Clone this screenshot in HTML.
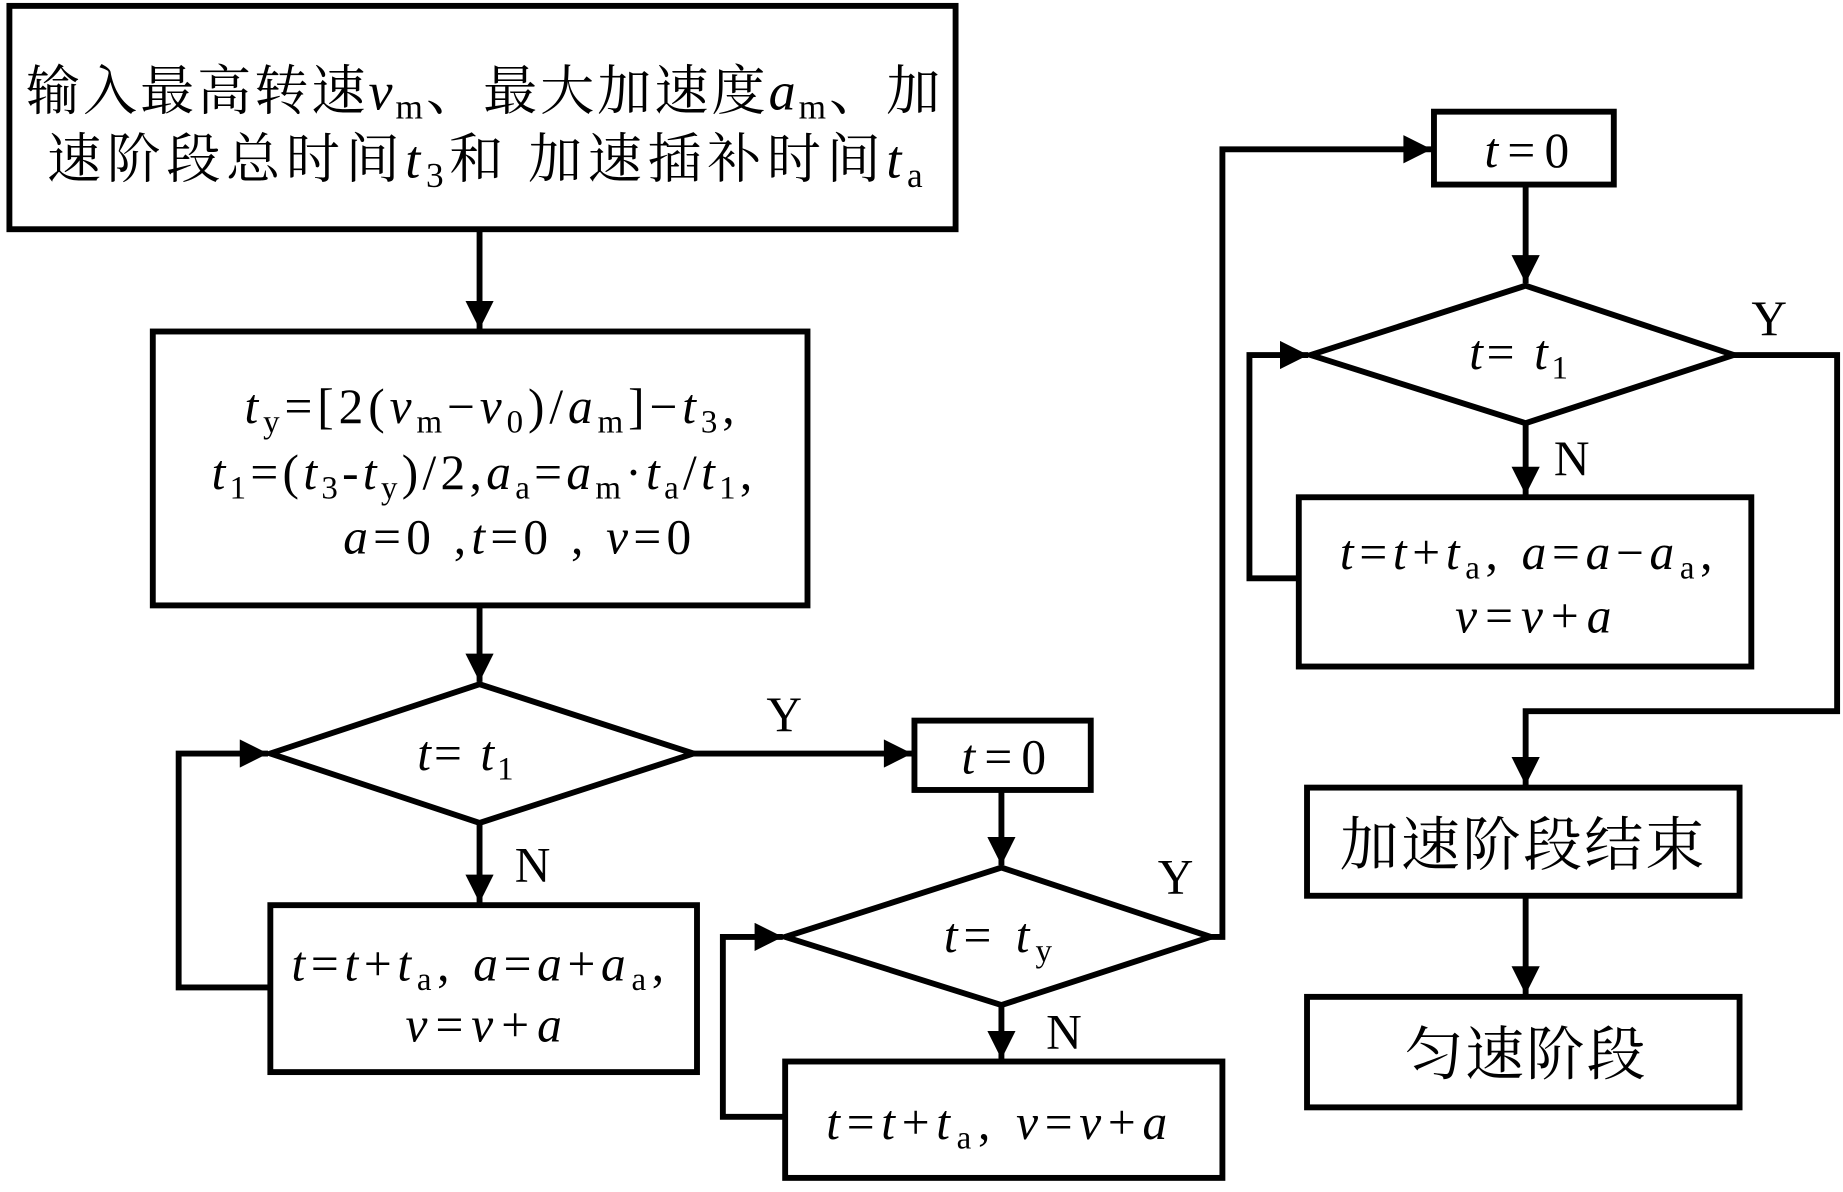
<!DOCTYPE html>
<html><head><meta charset="utf-8"><style>
html,body{margin:0;padding:0;background:#fff;}
svg{display:block;}
text{font-family:"Liberation Serif","Noto Serif CJK SC",serif;fill:#000;}
.i{font-style:italic;}
</style></head><body>
<svg width="1843" height="1192" viewBox="0 0 1568 1014" preserveAspectRatio="none" xmlns="http://www.w3.org/2000/svg">
<defs>
<marker id="ah" viewBox="0 0 10 10" refX="10" refY="5" markerWidth="26" markerHeight="24" markerUnits="userSpaceOnUse" orient="auto"><path d="M0,0 L10,5 L0,10z"/></marker></defs>
<g fill="none" stroke="#000" stroke-width="5">
<rect x="8" y="5" width="805" height="190"/>
<rect x="130" y="282" width="557" height="233"/>
<polygon points="230,641 408,582 590,641 408,700"/>
<rect x="230" y="770" width="363" height="142"/>
<rect x="778" y="613" width="150" height="59"/>
<polygon points="668,797 852,738 1030,797 852,855"/>
<rect x="668" y="903" width="372" height="99"/>
<rect x="1220" y="95" width="153" height="62"/>
<polygon points="1115,302 1298,243 1475,302 1298,360"/>
<rect x="1105" y="423" width="385" height="144"/>
<rect x="1112" y="670" width="368" height="92"/>
<rect x="1112" y="848" width="368" height="94"/>
</g>
<g fill="none" stroke="#000" stroke-width="5" marker-end="url(#ah)">
<path d="M408,195 V280"/>
<path d="M408,515 V580"/>
<path d="M590,641 H776"/>
<path d="M408,700 V768"/>
<path d="M230,840 H152 V641 H228"/>
<path d="M852,672 V736"/>
<path d="M852,855 V901"/>
<path d="M668,950 H615 V797 H666"/>
<path d="M1030,797 H1040 V127 H1218"/>
<path d="M1298,157 V241"/>
<path d="M1298,360 V421"/>
<path d="M1105,492 H1063 V302 H1113"/>
<path d="M1475,302 H1563 V605 H1298 V668"/>
<path d="M1298,762 V846"/>
</g>
<g font-size="46">
<text x="22" y="93" textLength="778" lengthAdjust="spacing">输入最高转速<tspan class="i">v</tspan><tspan font-size="30" dy="8">m</tspan><tspan dy="-8">、最大加速度</tspan><tspan class="i">a</tspan><tspan font-size="30" dy="8">m</tspan><tspan dy="-8">、加</tspan></text>
<text x="40" y="151" textLength="745" lengthAdjust="spacing">速阶段总时间<tspan class="i">t</tspan><tspan font-size="30" dy="8">3</tspan><tspan dy="-8">和 加速插补时间</tspan><tspan class="i">t</tspan><tspan font-size="30" dy="8">a</tspan></text>
</g>
<g font-size="42">
<text x="208" y="360" textLength="417" lengthAdjust="spacing"><tspan class="i">t</tspan><tspan font-size="28" dy="8">y</tspan><tspan dy="-8">=[2(</tspan><tspan class="i">v</tspan><tspan font-size="28" dy="8">m</tspan><tspan dy="-8">−</tspan><tspan class="i">v</tspan><tspan font-size="28" dy="8">0</tspan><tspan dy="-8">)/</tspan><tspan class="i">a</tspan><tspan font-size="28" dy="8">m</tspan><tspan dy="-8">]−</tspan><tspan class="i">t</tspan><tspan font-size="28" dy="8">3</tspan><tspan dy="-8">,</tspan></text>
<text x="180" y="416" textLength="460" lengthAdjust="spacing"><tspan class="i">t</tspan><tspan font-size="28" dy="8">1</tspan><tspan dy="-8">=(</tspan><tspan class="i">t</tspan><tspan font-size="28" dy="8">3</tspan><tspan dy="-8">-</tspan><tspan class="i">t</tspan><tspan font-size="28" dy="8">y</tspan><tspan dy="-8">)/2,</tspan><tspan class="i">a</tspan><tspan font-size="28" dy="8">a</tspan><tspan dy="-8">=</tspan><tspan class="i">a</tspan><tspan font-size="28" dy="8">m</tspan><tspan dy="-8">·</tspan><tspan class="i">t</tspan><tspan font-size="28" dy="8">a</tspan><tspan dy="-8">/</tspan><tspan class="i">t</tspan><tspan font-size="28" dy="8">1</tspan><tspan dy="-8">,</tspan></text>
<text x="292" y="471" textLength="296" lengthAdjust="spacing"><tspan class="i">a</tspan>=0 ,<tspan class="i">t</tspan>=0 , <tspan class="i">v</tspan>=0</text>
<text x="355" y="655" textLength="82" lengthAdjust="spacing"><tspan class="i">t</tspan>= <tspan class="i">t</tspan><tspan font-size="28" dy="8">1</tspan></text>
<text x="248" y="834" textLength="317" lengthAdjust="spacing"><tspan class="i">t</tspan>=<tspan class="i">t</tspan>+<tspan class="i">t</tspan><tspan font-size="28" dy="8">a</tspan><tspan dy="-8">, </tspan><tspan class="i">a</tspan>=<tspan class="i">a</tspan>+<tspan class="i">a</tspan><tspan font-size="28" dy="8">a</tspan><tspan dy="-8">,</tspan></text>
<text x="345" y="886" textLength="133" lengthAdjust="spacing"><tspan class="i">v</tspan>=<tspan class="i">v</tspan>+<tspan class="i">a</tspan></text>
<text x="818" y="658" textLength="72" lengthAdjust="spacing"><tspan class="i">t</tspan>=0</text>
<text x="803" y="810" textLength="92" lengthAdjust="spacing"><tspan class="i">t</tspan>= <tspan class="i">t</tspan><tspan font-size="28" dy="8">y</tspan></text>
<text x="703" y="969" textLength="290" lengthAdjust="spacing"><tspan class="i">t</tspan>=<tspan class="i">t</tspan>+<tspan class="i">t</tspan><tspan font-size="28" dy="8">a</tspan><tspan dy="-8">,  </tspan><tspan class="i">v</tspan>=<tspan class="i">v</tspan>+<tspan class="i">a</tspan></text>
<text x="1263" y="142" textLength="72" lengthAdjust="spacing"><tspan class="i">t</tspan>=0</text>
<text x="1250" y="314" textLength="84" lengthAdjust="spacing"><tspan class="i">t</tspan>= <tspan class="i">t</tspan><tspan font-size="28" dy="8">1</tspan></text>
<text x="1140" y="484" textLength="317" lengthAdjust="spacing"><tspan class="i">t</tspan>=<tspan class="i">t</tspan>+<tspan class="i">t</tspan><tspan font-size="28" dy="8">a</tspan><tspan dy="-8">, </tspan><tspan class="i">a</tspan>=<tspan class="i">a</tspan>−<tspan class="i">a</tspan><tspan font-size="28" dy="8">a</tspan><tspan dy="-8">,</tspan></text>
<text x="1238" y="538" textLength="133" lengthAdjust="spacing"><tspan class="i">v</tspan>=<tspan class="i">v</tspan>+<tspan class="i">a</tspan></text>
<text x="652" y="622">Y</text>
<text x="438" y="750">N</text>
<text x="985" y="760">Y</text>
<text x="890" y="892">N</text>
<text x="1490" y="285">Y</text>
<text x="1322" y="404">N</text>
</g>
<g font-size="50">
<text x="1140" y="736" textLength="310" lengthAdjust="spacing">加速阶段结束</text>
<text x="1195" y="914" textLength="205" lengthAdjust="spacing">匀速阶段</text>
</g>
</svg>
</body></html>
